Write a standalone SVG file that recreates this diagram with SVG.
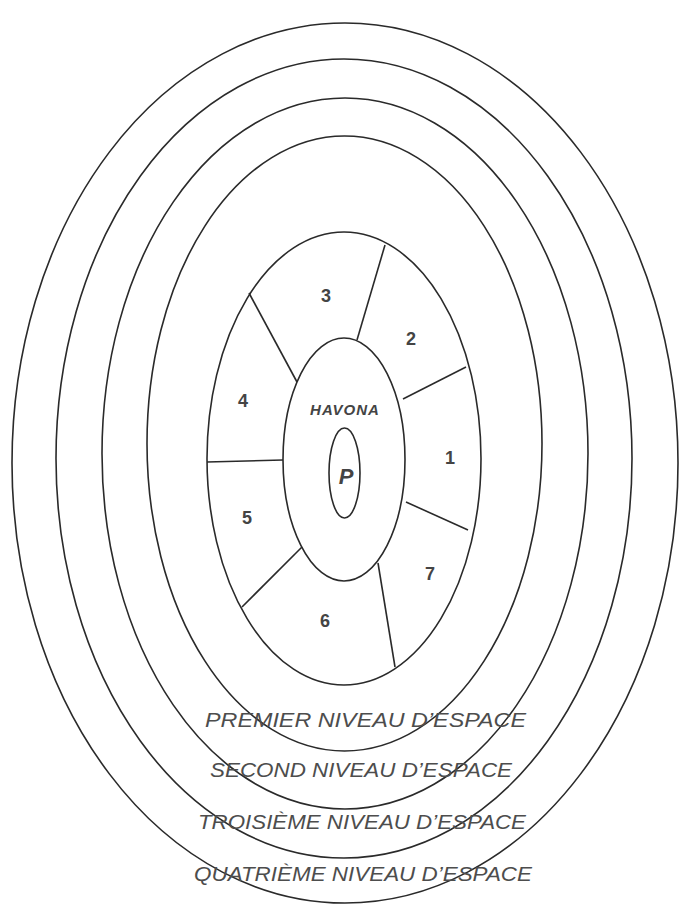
<svg xmlns="http://www.w3.org/2000/svg" width="695" height="920" viewBox="0 0 695 920">
<style>
.ring{fill:none;stroke:#2a2a2a;stroke-width:1.6}
.div{stroke:#2a2a2a;stroke-width:1.6;fill:none}
.num{font-family:"Liberation Sans",Arial,sans-serif;font-weight:bold;font-size:18px;fill:#444;text-anchor:middle}
.lvl{font-family:"Liberation Sans",Arial,sans-serif;font-style:italic;font-size:20px;fill:#4d4d4d}
.hav{font-family:"Liberation Sans",Arial,sans-serif;font-style:italic;font-weight:bold;font-size:15px;fill:#444;text-anchor:middle;letter-spacing:1px}
.p{font-family:"Liberation Sans",Arial,sans-serif;font-style:italic;font-weight:bold;font-size:22px;fill:#444;text-anchor:middle}
</style>
<rect width="695" height="920" fill="#fff"/>
<g id="level4"><ellipse class="ring" cx="345" cy="463" rx="333" ry="440"/></g>
<g id="level3"><ellipse class="ring" cx="344" cy="458.5" rx="288" ry="399.5"/></g>
<g id="level2"><ellipse class="ring" cx="345" cy="453.5" rx="243" ry="355.5"/></g>
<g id="level1"><ellipse class="ring" cx="344.5" cy="443.5" rx="197.5" ry="307.5"/></g>
<g id="superuniverses"><ellipse class="ring" cx="344" cy="458.5" rx="137" ry="226.5"/></g>
<g id="havona"><ellipse class="ring" cx="344" cy="459.5" rx="61" ry="121.5"/>
<text class="hav" x="345" y="415">HAVONA</text></g>
<g id="paradise"><ellipse class="ring" cx="344.5" cy="473" rx="15.5" ry="45"/>
<text class="p" x="346" y="484">P</text></g>
<g id="connectors">
<line class="div" x1="385" y1="245" x2="357" y2="340"/>
<line class="div" x1="249" y1="293" x2="297" y2="382"/>
<line class="div" x1="466" y1="367" x2="403" y2="399"/>
<line class="div" x1="207" y1="462" x2="283" y2="460"/>
<line class="div" x1="406" y1="502" x2="468" y2="530"/>
<line class="div" x1="302" y1="547" x2="242" y2="607"/>
<line class="div" x1="378" y1="563" x2="395" y2="667"/>
</g>
<g id="sectors">
<text class="num" x="450" y="464">1</text>
<text class="num" x="411" y="345">2</text>
<text class="num" x="326" y="302">3</text>
<text class="num" x="243" y="407">4</text>
<text class="num" x="247" y="524">5</text>
<text class="num" x="325" y="627">6</text>
<text class="num" x="430" y="580">7</text>
</g>
<g id="labels">
<text class="lvl" x="205" y="727" textLength="321" lengthAdjust="spacingAndGlyphs">PREMIER NIVEAU D’ESPACE</text>
<text class="lvl" x="210" y="777" textLength="302" lengthAdjust="spacingAndGlyphs">SECOND NIVEAU D’ESPACE</text>
<text class="lvl" x="198" y="829" textLength="328" lengthAdjust="spacingAndGlyphs">TROISIÈME NIVEAU D’ESPACE</text>
<text class="lvl" x="194" y="881" textLength="338" lengthAdjust="spacingAndGlyphs">QUATRIÈME NIVEAU D’ESPACE</text>
</g>
</svg>
